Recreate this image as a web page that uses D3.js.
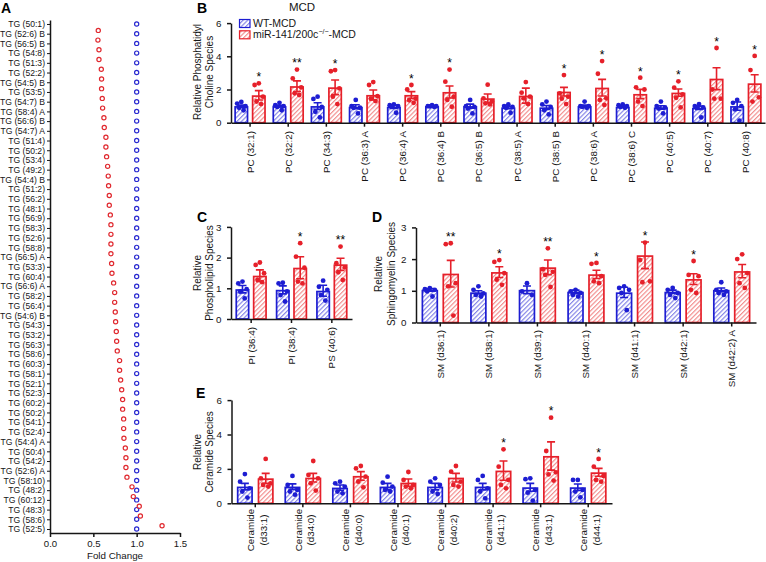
<!DOCTYPE html>
<html><head><meta charset="utf-8">
<script src="https://cdn.jsdelivr.net/npm/d3@7"></script>
<style>
body{margin:0;background:#fff;}
svg{display:block;font-family:"Liberation Sans",Arial,Helvetica,sans-serif;}
</style></head><body>
<svg id="chart" width="766" height="562"></svg>
<script>
// ---------------- DATA ----------------
const tgLabels = ["TG (50:1)","TG (52:6) B","TG (56:5) B","TG (54:8)","TG (51:3)","TG (52:2)","TG (54:5) B","TG (53:5)","TG (54:7) B","TG (58:4) A","TG (56:6) B","TG (54:7) A","TG (51:4)","TG (50:2)","TG (53:4)","TG (49:2)","TG (54:4) B","TG (51:2)","TG (56:2)","TG (48:1)","TG (56:9)","TG (58:3)","TG (52:6)","TG (58:8)","TG (56:5) A","TG (53:3)","TG (60:4)","TG (56:6) A","TG (58:2)","TG (56:4)","TG (54:6) B","TG (54:3)","TG (53:2)","TG (56:3)","TG (58:6)","TG (60:3)","TG (58:1)","TG (52:1)","TG (52:3)","TG (60:2)","TG (50:2)","TG (54:1)","TG (52:4)","TG (54:4) A","TG (50:4)","TG (54:2)","TG (52:6) A","TG (58:10)","TG (48:2)","TG (60:12)","TG (48:3)","TG (58:6)","TG (52:5)"];
const tgWT = [1,1,1,1,1,1,1,1,1,1,1,1,1,1,1,1,1,1,1,1,1,1,1,1,1,1,1,1,1,1,1,1,1,1,1,1,1,1,1,1,1,1,1,1,1,1,1,1,1,1,1,1,1];
const tgKO = [null,0.557,0.553,0.565,0.565,0.592,0.595,0.595,0.603,0.607,0.622,0.626,0.645,0.645,0.653,0.665,0.672,0.676,0.684,
  0.684,0.696,0.703,0.703,0.703,0.703,0.711,0.715,0.734,0.746,0.746,0.753,0.757,0.765,0.769,0.776,0.803,0.803,
  0.815,0.827,0.838,0.838,0.850,0.850,0.853,0.869,0.876,0.876,0.888,0.946,0.961,1.030,1.043,1.293];
const foldTicks = [0, 0.5, 1.0, 1.5];

const pcLabels = ["PC (32:1)","PC (32:2)","PC (34:3)","PC (36:3) A","PC (36:4) A","PC (36:4) B","PC (36:5) B","PC (38:5) A","PC (38:5) B","PC (38:6) A","PC (38:6) C","PC (40:5)","PC (40:7)","PC (40:8)"];
const pcWTMean = [1.0,1.0,1.0,0.96,0.96,1.0,1.0,0.92,0.92,1.0,0.96,0.92,0.90,1.0];
const pcWTSem  = [0.06,0.05,0.2,0.12,0.1,0.03,0.12,0.07,0.12,0.06,0.03,0.1,0.1,0.25];
const pcWTDots = [[1.25,1.15,1.0,0.9,0.75],[1.2,1.05,1.0,0.95,0.75],[1.57,1.43,0.95,0.66,0.32],[1.37,1.0,0.9,0.9,0.56],[1.1,1.05,1.0,1.0,0.6],
  [1.05,1.0,1.0,0.98,0.95],[1.37,1.0,0.95,0.85,0.56],[1.1,1.0,0.95,0.9,0.6],[1.27,1.1,0.95,0.75,0.5],[1.27,1.0,1.0,0.95,0.9],
  [1.1,1.05,1.0,0.95,0.9],[1.27,1.0,0.92,0.85,0.56],[1.12,1.0,0.92,0.9,0.32],[1.37,1.2,1.0,0.8,0.12]];
const pcKOMean = [1.65,2.2,2.13,1.67,1.67,1.85,1.47,1.63,1.87,2.11,1.73,1.81,2.65,2.37];
const pcKOSem  = [0.28,0.32,0.44,0.3,0.2,0.36,0.26,0.45,0.26,0.5,0.28,0.22,0.66,0.52];
const pcKODots = [[2.37,2.27,1.57,1.27,1.12],[3.2,2.67,2.13,1.77,1.67],[3.17,3.1,2.07,1.57,1.12],[2.45,2.27,1.6,1.45,1.3],[2.27,2.0,1.45,1.35,1.2],
  [3.2,2.47,1.57,1.37,0.96],[2.29,1.47,1.27,1.17,1.1],[2.45,1.81,1.57,1.47,1.12],[2.87,1.77,1.57,1.45,1.12],[3.71,2.95,1.47,1.37,1.07],
  [2.71,2.13,2.0,1.27,1.0],[2.49,2.11,1.71,1.5,0.92],[4.5,2.0,1.45,1.45],[4.02,3.17,1.53,1.27]];
const pcStars = ["*","**","*","","*","*","","","*","*","*","*","*","*"];
const ticks06 = [0,2,4,6];

const plLabels = ["PI (36:4)","PI (38:4)","PS (40:6)"];
const plWTMean = [0.97,0.95,0.92];
const plWTSem  = [0.12,0.13,0.18];
const plWTDots = [[1.22,1.16,0.97,0.9,0.67],[1.18,1.16,0.9,0.78,0.57],[1.25,1.05,0.95,0.78,0.6]];
const plKOMean = [1.41,1.67,1.78];
const plKOSem  = [0.19,0.36,0.2];
const plKODots = [[1.84,1.76,1.49,1.27,1.2],[2.47,2.03,1.67,1.22,1.16],[2.36,1.82,1.68,1.52,1.27]];
const plStars = ["","*","**"];
const ticks03 = [0,1,2,3];

const smLabels = ["SM (d36:1)","SM (d38:1)","SM (d39:1)","SM (d40:1)","SM (d41:1)","SM (d42:1)","SM (d42:2) A"];
const smWTMean = [1.03,0.95,1.03,0.97,0.95,0.97,1.03];
const smWTSem  = [0.04,0.05,0.12,0.05,0.16,0.05,0.06];
const smWTDots = [[1.08,1.05,1.03,0.98,0.82],[1.14,1.03,0.92,0.87,0.82],[1.24,0.98,0.87],[1.03,0.98,0.93,0.87,0.82],
  [1.14,1.09,1.03,0.93,0.39],[1.09,1.03,0.93,0.87,0.77],[1.27,1.03,0.98,0.93,0.87]];
const smKOMean = [1.54,1.59,1.74,1.52,2.12,1.37,1.62];
const smKOSem  = [0.42,0.17,0.23,0.13,0.42,0.17,0.21];
const smKODots = [[2.5,2.47,1.24,1.14,0.22],[1.97,1.91,1.56,1.35,1.19],[2.34,1.68,1.6,1.5,1.12],[1.88,1.85,1.46,1.3,1.24],
  [2.52,1.97,1.3,1.27],[1.94,1.5,1.46,1.03,0.93],[2.15,2.0,1.56,1.24,1.09]];
const smStars = ["**","*","**","*","*","*",""];

const cerLabels = ["Ceramide (d33:1)","Ceramide (d34:0)","Ceramide (d40:0)","Ceramide (d40:1)","Ceramide (d40:2)","Ceramide (d41:1)","Ceramide (d43:1)","Ceramide (d44:1)"];
const cerWTMean = [0.97,0.97,0.91,0.97,0.97,0.97,0.93,0.93];
const cerWTSem  = [0.19,0.16,0.15,0.19,0.19,0.19,0.23,0.19];
const cerWTDots = [[1.7,1.26,0.87,0.68,0.33],[1.59,1.07,0.78,0.68,0.5],[1.26,1.16,0.97,0.68,0.58],[1.55,1.2,0.97,0.78,0.68],
  [1.45,1.26,1.07,0.68,0.54],[1.59,1.36,0.87,0.68,0.29],[1.45,1.4,0.78,0.62,0.16],[1.36,1.36,0.78,0.68,0.35]];
const cerKOMean = [1.45,1.49,1.59,1.2,1.49,1.9,2.75,1.8];
const cerKOSem  = [0.29,0.25,0.25,0.21,0.25,0.56,0.82,0.23];
const cerKODots = [[2.58,1.45,1.16,1.07,0.97],[2.46,1.65,1.45,1.16,0.74],[2.17,2.03,1.55,1.26,0.93],[1.82,1.36,1.07,0.97,0.87],
  [2.17,1.84,1.26,1.07,0.97],[3.14,2.13,1.36,1.07,0.87],[4.98,3.04,1.8,1.68,1.32],[2.58,2.13,1.59,1.36,1.26]];
const cerStars = ["","","","","","*","*","*"];

const legendLabels = ["WT-MCD","miR-141/200c"];

// ---------------- DRAW ----------------
const svg = d3.select("#chart");
const BLUE = "#1d1dd2", RED = "#e6202a", BLUE_H = "#7d7de6", RED_H = "#f28686", INK = "#161616";
const defs = svg.append("defs");
function hatch(id, color){
  const p = defs.append("pattern").attr("id", id).attr("patternUnits","userSpaceOnUse")
    .attr("width", 3.2).attr("height", 3.2).attr("patternTransform","rotate(45)");
  p.append("rect").attr("width",3.2).attr("height",3.2).attr("fill","#fff");
  p.append("line").attr("x1",0.6).attr("y1",0).attr("x2",0.6).attr("y2",3.2).attr("stroke",color).attr("stroke-width",1.1);
}
hatch("hB", BLUE_H); hatch("hR", RED_H);

function styleAxis(sel, fs){
  sel.selectAll("path,line").attr("stroke", INK).attr("stroke-width", 1.5);
  sel.selectAll("text").attr("fill", INK).style("font-size", fs + "px");
}
function panelLetter(t, x, y){
  svg.append("text").attr("x", x).attr("y", y).text(t)
    .style("font-size","14px").style("font-weight","bold").attr("fill","#000");
}
function yTitle(lines, xs, cy){
  lines.forEach((l,k)=>{
    svg.append("text").attr("transform",`translate(${xs[k]},${cy}) rotate(-90)`)
      .attr("text-anchor","middle").attr("dy","0.35em").text(l)
      .style("font-size","10px").attr("fill",INK);
  });
}

// ----- Panel A -----
const xA = d3.scaleLinear().domain([0,1.5]).range([50,180]);
const yA = d3.scalePoint().domain(d3.range(tgLabels.length)).range([20,533]).padding(0.41);
const gA = svg.append("g");
gA.append("g").attr("transform","translate(50,0)")
  .call(d3.axisLeft(yA).tickSize(3).tickPadding(2).tickSizeOuter(0).tickFormat(i=>tgLabels[i]))
  .call(s=>styleAxis(s, 8.6)).call(s=>s.selectAll("line").attr("stroke-width",1));
gA.append("g").attr("transform","translate(0,533)")
  .call(d3.axisBottom(xA).tickValues(foldTicks).tickFormat(d3.format(".1f")).tickSize(4).tickSizeOuter(0))
  .call(s=>styleAxis(s, 9.6));
gA.append("text").attr("x",115).attr("y",559).attr("text-anchor","middle").text("Fold Change")
  .style("font-size","9.8px").attr("fill",INK);
gA.selectAll(".wt").data(tgWT).join("circle").attr("class","wt")
  .attr("cx",d=>xA(d)).attr("cy",(d,i)=>yA(i)).attr("r",2.1)
  .attr("fill","none").attr("stroke","#2a2ad0").attr("stroke-width",1.2);
const redShift = -0.34 * yA.step();
gA.selectAll(".ko").data(tgKO.map((v,i)=>({v,i})).filter(d=>d.v!=null)).join("circle").attr("class","ko")
  .attr("cx",d=>xA(d.v)).attr("cy",d=>yA(d.i)+redShift).attr("r",2.1)
  .attr("fill","none").attr("stroke","#e0282e").attr("stroke-width",1.2);
panelLetter("A", 1, 13);

// ----- bar panels -----
const jit = [0, -0.3, 0.3, -0.16, 0.16];
function barPanel(o){
  const g = svg.append("g");
  const n = o.labels.length;
  const x = d3.scaleBand().domain(d3.range(n)).range([o.x0, o.x1]);
  const y = d3.scaleLinear().domain([0, o.yMax]).range([o.yBase, o.yTop]);
  const cx = i => x(i) + x.bandwidth()/2;
  const sets = [
    {mean:o.wtMean, sem:o.wtSem, dots:o.wtDots, color:BLUE, fill:"url(#hB)", left:true},
    {mean:o.koMean, sem:o.koSem, dots:o.koDots, color:RED, fill:"url(#hR)", left:false}];
  sets.forEach(s=>{
    const bx = i => s.left ? cx(i) - o.gap/2 - o.bw : cx(i) + o.gap/2;
    g.append("g").selectAll("rect").data(s.mean).join("rect")
      .attr("x",(d,i)=>bx(i)+0.8).attr("y",d=>y(d)+0.8).attr("width",o.bw-1.6).attr("height",d=>o.yBase-y(d)-0.8)
      .attr("fill",s.fill).attr("stroke",s.color).attr("stroke-width",1.7);
    const dots = [];
    s.dots.forEach((arr,i)=>arr.forEach((v,j)=>dots.push({i,v,j})));
    g.append("g").selectAll("circle").data(dots).join("circle")
      .attr("cx",d=>bx(d.i)+o.bw/2+jit[d.j]*o.bw).attr("cy",d=>y(d.v)).attr("r",2.4)
      .attr("fill",s.color);
    const eb = g.append("g").attr("stroke",s.color).attr("stroke-width",1.6).attr("fill","none");
    s.mean.forEach((m,i)=>{
      const c = bx(i)+o.bw/2, hi = y(m+s.sem[i]), lo = y(Math.max(0,m-s.sem[i]));
      eb.append("path").attr("d",`M${c},${lo}V${hi}M${c-4},${hi}H${c+4}M${c-4},${lo}H${c+4}`);
    });
  });
  // stars
  o.stars.forEach((st,i)=>{
    if(!st) return;
    const top = Math.min(y(d3.max(o.koDots[i])), y(o.koMean[i]+o.koSem[i]));
    g.append("text").attr("x", cx(i)+o.gap/2+o.bw/2).attr("y", top-9+6.8)
      .attr("text-anchor","middle").text(st).style("font-size","12px").attr("fill","#000");
  });
  // axes
  g.append("g").attr("transform",`translate(${o.x0},0)`)
    .call(d3.axisLeft(y).tickValues(o.ticks).tickFormat(d3.format("d")).tickSize(4).tickPadding(5.5).tickSizeOuter(0))
    .call(s=>styleAxis(s, 9.8));
  g.append("g").attr("transform",`translate(0,${o.yBase})`)
    .call(d3.axisBottom(x).tickSize(4).tickSizeOuter(0).tickFormat(""))
    .call(s=>styleAxis(s, 9.6));
  // x labels
  o.labels.forEach((l,i)=>{
    if(o.twoLine){
      const k = l.indexOf(" ");
      const t = g.append("text").attr("transform",`translate(${cx(i)},${o.labY}) rotate(-90)`)
        .attr("text-anchor","middle").style("font-size","9.8px").attr("fill",INK);
      t.append("tspan").attr("x",0).attr("y",-1.2).text(l.slice(0,k));
      t.append("tspan").attr("x",0).attr("y",11.4).text(l.slice(k+1));
    } else {
      g.append("text").attr("transform",`translate(${cx(i)},${o.labY}) rotate(-90)`)
        .attr("text-anchor","end").attr("dy","0.35em").text(l)
        .style("font-size","9.8px").attr("fill",INK);
    }
  });
}

barPanel({labels:pcLabels, wtMean:pcWTMean, wtSem:pcWTSem, wtDots:pcWTDots, koMean:pcKOMean, koSem:pcKOSem, koDots:pcKODots,
  stars:pcStars, x0:231, x1:765, yBase:122.7, yTop:23.1, yMax:6, ticks:ticks06, bw:14, gap:3.5, labY:131});
barPanel({labels:plLabels, wtMean:plWTMean, wtSem:plWTSem, wtDots:plWTDots, koMean:plKOMean, koSem:plKOSem, koDots:plKODots,
  stars:plStars, x0:231, x1:352, yBase:319, yTop:226.9, yMax:3, ticks:ticks03, bw:14, gap:3.4, labY:327});
barPanel({labels:smLabels, wtMean:smWTMean, wtSem:smWTSem, wtDots:smWTDots, koMean:smKOMean, koSem:smKOSem, koDots:smKODots,
  stars:smStars, x0:416, x1:756, yBase:322.5, yTop:227.4, yMax:3, ticks:ticks03, bw:16.5, gap:4.4, labY:330});
barPanel({labels:cerLabels, wtMean:cerWTMean, wtSem:cerWTSem, wtDots:cerWTDots, koMean:cerKOMean, koSem:cerKOSem, koDots:cerKODots,
  stars:cerStars, x0:231.5, x1:612, yBase:503.3, yTop:400.1, yMax:6, ticks:ticks06, bw:16, gap:4.8, labY:530, twoLine:true});

yTitle(["Relative Phosphatidyl","Choline Species"],[197,209.5],72);
yTitle(["Relative","Phospholipid Species"],[197,209.5],273);
yTitle(["Relative","Sphingomyelin Species"],[378,391],274);
yTitle(["Relative","Ceramide Species"],[197,209.5],452);

panelLetter("B", 197, 13);
panelLetter("C", 197, 222);
panelLetter("D", 372, 222);
panelLetter("E", 196, 398);

// title + legend
svg.append("text").attr("x",302).attr("y",10.5).attr("text-anchor","middle").text("MCD")
  .style("font-size","11.5px").attr("fill",INK);
const lg = svg.append("g");
[["url(#hB)",BLUE],["url(#hR)",RED]].forEach((c,k)=>{
  lg.append("rect").attr("x",239.5).attr("y",19.5+k*11.3).attr("width",10.5).attr("height",8)
    .attr("fill",c[0]).attr("stroke",c[1]).attr("stroke-width",1.2);
});
lg.append("text").attr("x",253).attr("y",27).text(legendLabels[0]).style("font-size","10.5px").attr("fill",INK);
const l2 = lg.append("text").attr("x",253).attr("y",38.3).style("font-size","10.5px").attr("fill",INK);
l2.append("tspan").text(legendLabels[1]);
l2.append("tspan").attr("dy",-4).style("font-size","7px").text("−/−");
l2.append("tspan").attr("dy",4).text("-MCD");
</script>
</body></html>
